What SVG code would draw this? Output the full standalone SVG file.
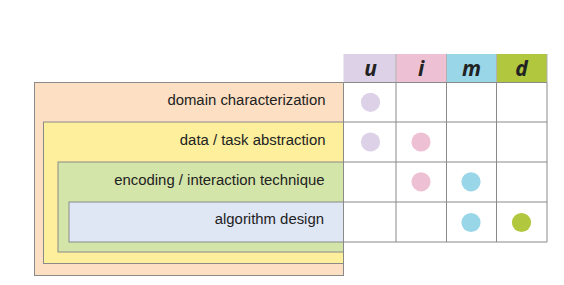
<svg xmlns="http://www.w3.org/2000/svg" width="564" height="285" viewBox="0 0 564 285">
<style>
.box{stroke:#8a8a8a;stroke-width:1}
.lbl{font-family:"Liberation Sans",Arial,sans-serif;font-size:14.9px;fill:#222;text-anchor:end}
.hdr{font-family:"Open Sans","Liberation Sans",sans-serif;font-size:21px;font-weight:700;font-style:italic;fill:#222;text-anchor:middle}
.grid{stroke:#8a8a8a;stroke-width:1;fill:none}
.hline{stroke:#b0b0b0;stroke-width:1}
</style>
<rect width="564" height="285" fill="#fff"/>
<g id="domain">
<rect class="box" x="34.5" y="82.5" width="309" height="193" fill="#fde0c4"/>
<text class="lbl" x="325.5" y="105">domain characterization</text>
</g>
<g id="abstraction">
<rect class="box" x="43.5" y="122" width="300" height="141.5" fill="#fdef9c"/>
<text class="lbl" x="325.5" y="144.5">data / task abstraction</text>
</g>
<g id="encoding">
<rect class="box" x="58" y="162" width="285.5" height="90" fill="#d4e5a9"/>
<text class="lbl" x="324.5" y="184.5">encoding / interaction technique</text>
</g>
<g id="algorithm">
<rect class="box" x="69" y="202" width="274.5" height="40" fill="#dfe6f4"/>
<text class="lbl" x="324" y="224">algorithm design</text>
</g>
<g id="header">
<rect x="343.5" y="54" width="52.5" height="28.5" fill="#ddd1e7"/>
<rect x="396" y="54" width="50.5" height="28.5" fill="#edc1d3"/>
<rect x="446.5" y="54" width="50" height="28.5" fill="#98d6e8"/>
<rect x="496.5" y="54" width="50.5" height="28.5" fill="#b0c73e"/>
<line class="hline" x1="396" y1="54" x2="396" y2="82.5"/>
<line class="hline" x1="446.5" y1="54" x2="446.5" y2="82.5"/>
<line class="hline" x1="496.5" y1="54" x2="496.5" y2="82.5"/>
<line class="hline" x1="547" y1="54" x2="547" y2="82.5"/>
<text class="hdr" x="370.5" y="76">u</text>
<text class="hdr" x="421" y="76">i</text>
<text class="hdr" x="471.5" y="76">m</text>
<text class="hdr" x="521.5" y="76">d</text>
</g>
<g id="table">
<rect x="343.5" y="82.5" width="203.5" height="159.5" fill="#fff"/>
</g>
<g id="connectors">
<path class="grid" d="M343.5 82.5H547V242H343.5Z M343.5 122H547 M343.5 162H547 M343.5 202H547 M396 82.5V242 M446.5 82.5V242 M496.5 82.5V242"/>
<line class="grid" x1="343.5" y1="242" x2="343.5" y2="275.5"/>
</g>
<g id="marks">
<circle cx="370.5" cy="102.3" r="9.6" fill="#ddd1e7"/>
<circle cx="370.5" cy="142" r="9.6" fill="#ddd1e7"/>
<circle cx="421" cy="142" r="9.6" fill="#edc1d3"/>
<circle cx="421" cy="181.8" r="9.6" fill="#edc1d3"/>
<circle cx="471" cy="181.8" r="9.6" fill="#98d6e8"/>
<circle cx="471" cy="222.5" r="9.6" fill="#98d6e8"/>
<circle cx="521.5" cy="222.5" r="9.6" fill="#b0c73e"/>
</g>
</svg>
